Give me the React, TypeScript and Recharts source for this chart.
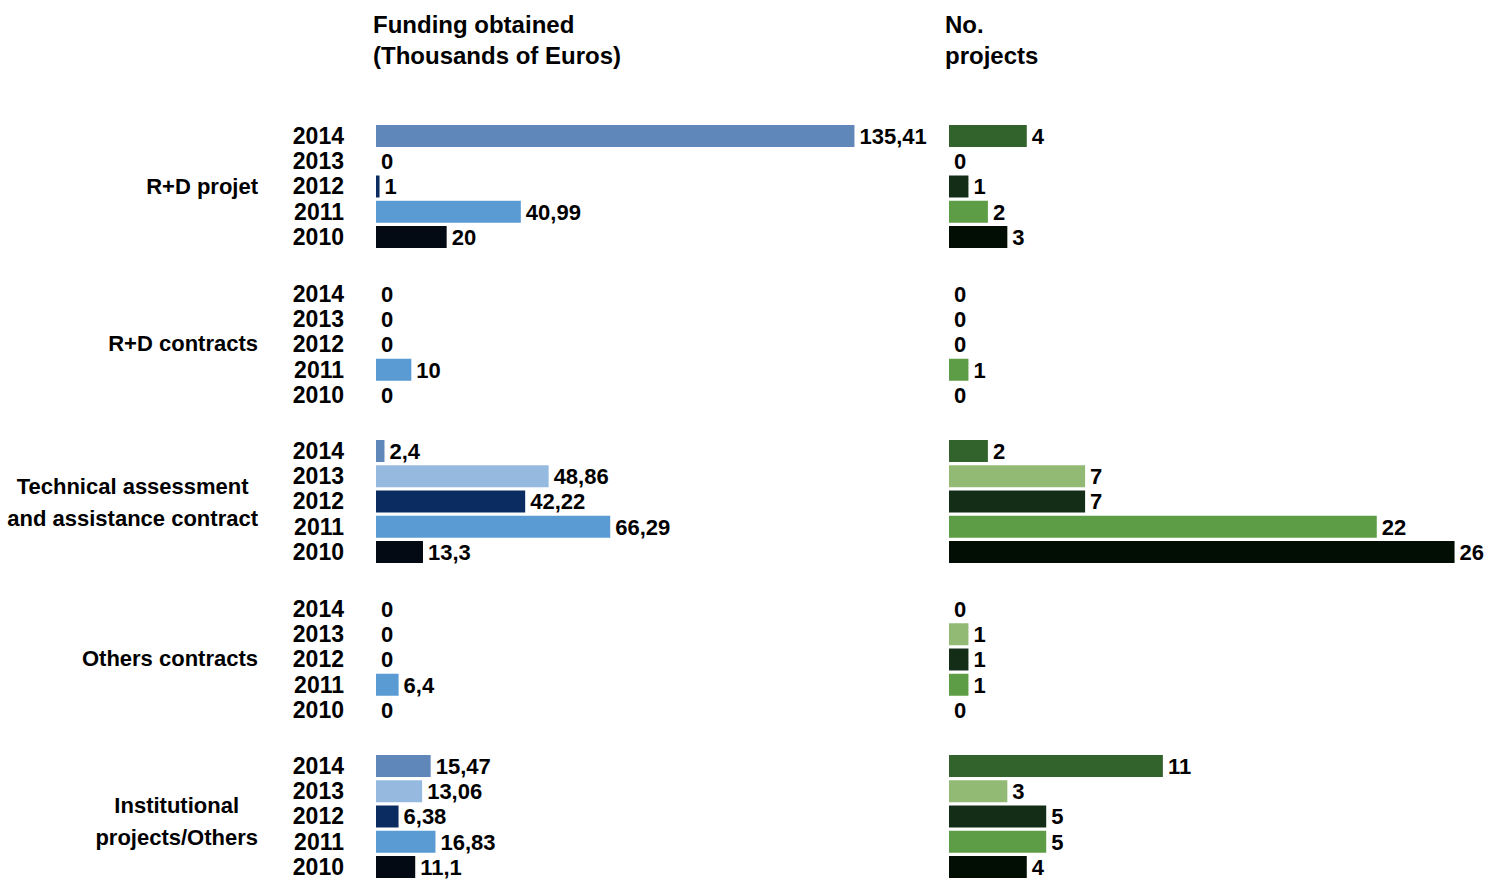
import { BarChart, Bar, XAxis, YAxis, Cell, LabelList } from 'recharts';

const years = ['2014', '2013', '2012', '2011', '2010'];

const categories = [
  ['R+D projet'],
  ['R+D contracts'],
  ['Technical assessment', 'and assistance contract'],
  ['Others contracts'],
  ['Institutional', 'projects/Others'],
];

// funding obtained, thousands of euros (2014..2010)
const fundingRD = [135.41, 0, 1, 40.99, 20];
const fundingContracts = [0, 0, 0, 10, 0];
const fundingTechnical = [2.4, 48.86, 42.22, 66.29, 13.3];
const fundingOthers = [0, 0, 0, 6.4, 0];
const fundingInstitutional = [15.47, 13.06, 6.38, 16.83, 11.1];

// number of projects (2014..2010)
const projectsRD = [4, 0, 1, 2, 3];
const projectsContracts = [0, 0, 0, 1, 0];
const projectsTechnical = [2, 7, 7, 22, 26];
const projectsOthers = [0, 1, 1, 1, 0];
const projectsInstitutional = [11, 3, 5, 5, 4];

const funding = [fundingRD, fundingContracts, fundingTechnical, fundingOthers, fundingInstitutional];
const projects = [projectsRD, projectsContracts, projectsTechnical, projectsOthers, projectsInstitutional];

const blues = ['#6087ba', '#96b9df', '#0b2c60', '#5a9bd3', '#030a14'];
const greens = ['#33632c', '#93ba75', '#142d17', '#5c9d45', '#020e04'];

const FONT = "'Liberation Sans', Arial, sans-serif";
const GROUP_TOP = 123.4;
const GROUP_STEP = 157.5;
const CHART_H = 126.25;
// small vertical nudges for the group captions
const LABEL_SHIFT = [0, 0, 1, 0, 5];

const fmt = (v: any) => String(v).replace('.', ',');

function GroupChart({ values, colors, left }: { values: number[]; colors: string[]; left: boolean }) {
  const rows = years.map((year, i) => ({ year, value: values[i] }));
  return (
    <BarChart
      width={left ? 686 : 565}
      height={CHART_H}
      data={rows}
      layout="vertical"
      margin={{ top: 0, right: left ? 60 : 40, bottom: 0, left: 0 }}
    >
      <XAxis type="number" domain={left ? [0, 150] : [0, 27]} hide />
      <YAxis
        type="category"
        dataKey="year"
        width={96}
        hide={!left}
        axisLine={false}
        tickLine={false}
        tickSize={0}
        tickMargin={32}
        tick={{ fill: '#000', fontSize: 23, fontWeight: 'bold' }}
        interval={0}
      />
      <Bar dataKey="value" barSize={22} minPointSize={0.01} isAnimationActive={false}>
        {rows.map((r, i) => (
          <Cell key={`c-${i}`} fill={r.value === 0 ? 'transparent' : colors[i]} />
        ))}
        <LabelList
          dataKey="value"
          position="right"
          offset={5}
          formatter={fmt}
          fill="#000"
          fontSize={22}
          fontWeight="bold"
        />
      </Bar>
    </BarChart>
  );
}

export default function App() {
  return (
    <div
      style={{
        position: 'absolute',
        left: 0,
        top: 0,
        width: 1501,
        height: 887,
        overflow: 'hidden',
        background: '#fff',
        fontFamily: FONT,
        color: '#000',
      }}
    >
      <div style={{ position: 'absolute', left: 373, top: 9, fontSize: 24, fontWeight: 'bold', lineHeight: '31px' }}>
        Funding obtained
        <br />
        (Thousands of Euros)
      </div>
      <div style={{ position: 'absolute', left: 945, top: 9, fontSize: 24, fontWeight: 'bold', lineHeight: '31px' }}>
        No.
        <br />
        projects
      </div>

      {categories.map((lines, g) => {
        const top = GROUP_TOP + g * GROUP_STEP;
        return (
          <div key={`g-${g}`}>
            <div
              style={{
                position: 'absolute',
                right: 1501 - 258,
                top: top + CHART_H / 2 + LABEL_SHIFT[g],
                transform: 'translateY(-50%)',
                fontSize: 22,
                fontWeight: 'bold',
                lineHeight: '32px',
                textAlign: 'center',
                whiteSpace: 'nowrap',
              }}
            >
              {lines.map((l, i) => (
                <div key={i}>{l}</div>
              ))}
            </div>
            <div style={{ position: 'absolute', left: 280, top }}>
              <GroupChart values={funding[g]} colors={blues} left />
            </div>
            <div style={{ position: 'absolute', left: 949, top }}>
              <GroupChart values={projects[g]} colors={greens} left={false} />
            </div>
          </div>
        );
      })}
    </div>
  );
}
